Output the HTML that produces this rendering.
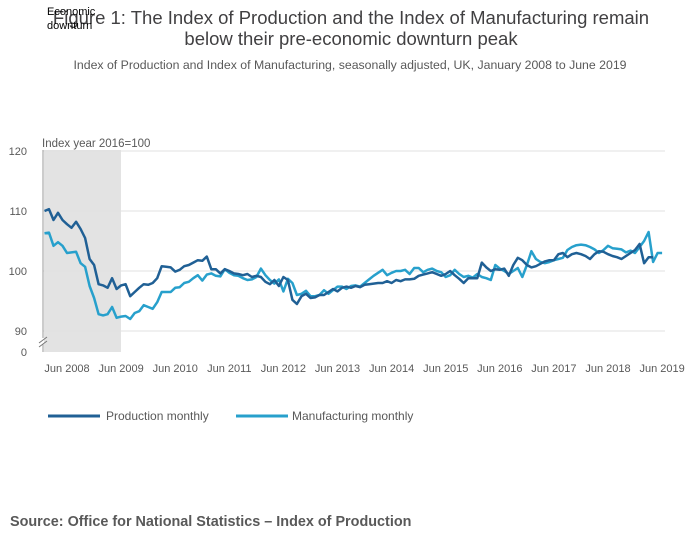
<!DOCTYPE html>
<html><head><meta charset="utf-8"><style>
body{margin:0;background:#fff;width:700px;height:549px;overflow:hidden;font-family:"Liberation Sans",sans-serif}
svg text{font-family:"Liberation Sans",sans-serif}
</style></head><body>
<svg id="chart" width="700" height="549">
<rect x="44" y="150" width="77" height="202" fill="#e3e3e3"/>
<text x="351" y="24" font-size="18.5" fill="#414042" text-anchor="middle">Figure 1: The Index of Production and the Index of Manufacturing remain</text>
<text x="351" y="45" font-size="18.5" fill="#414042" text-anchor="middle">below their pre-economic downturn peak</text>
<text x="47" y="15" font-size="11" fill="#000">Economic</text>
<text x="47" y="29" font-size="11" fill="#000">downturn</text>
<text x="350" y="69" font-size="12.3" fill="#595959" text-anchor="middle">Index of Production and Index of Manufacturing, seasonally adjusted, UK, January 2008 to June 2019</text>
<text x="42" y="147" font-size="11.5" fill="#595959">Index year 2016=100</text>
<g id="grid"></g><g id="xax"></g><g id="series"></g>
<line x1="43" y1="150" x2="43" y2="338" stroke="#999"/>
<line x1="43" y1="344" x2="43" y2="352" stroke="#999"/>
<path d="M39 343 L47 337 M39 347 L47 341" stroke="#777"/>
<text x="27" y="356" font-size="11" fill="#595959" text-anchor="end">0</text>
<line x1="48" y1="416" x2="100" y2="416" stroke="#206095" stroke-width="3"/>
<text x="106" y="420" font-size="12" fill="#595959">Production monthly</text>
<line x1="236" y1="416" x2="288" y2="416" stroke="#27a0cc" stroke-width="3"/>
<text x="292" y="420" font-size="12" fill="#595959">Manufacturing monthly</text>
<text x="10" y="526" font-size="14.4" font-weight="bold" fill="#595959">Source: Office for National Statistics – Index of Production</text>
</svg>
<script>
const yTicks=[90,100,110,120];
const xTickLabels=["Jun 2008","Jun 2009","Jun 2010","Jun 2011","Jun 2012","Jun 2013","Jun 2014","Jun 2015","Jun 2016","Jun 2017","Jun 2018","Jun 2019"];
const production=[110,110.3,108.5,109.7,108.5,107.8,107.2,108.2,107,105.5,102,101,
97.8,97.6,97.2,98.8,97,97.6,97.8,95.8,96.5,97.2,97.8,97.7,
98,98.8,100.8,100.7,100.6,99.9,100.2,100.8,101,101.4,101.8,101.7,
102.4,100.3,100.3,99.6,100.3,100,99.6,99.5,99.3,99.5,99,99.2,
99,98.2,97.8,98.5,97.5,99,98.5,95.2,94.5,95.8,96.2,95.5,
95.6,96,96,96.5,97,96.6,97.2,97.4,97.2,97.5,97.3,97.7,
97.8,97.9,98,98,98.3,98,98.5,98.3,98.6,98.6,98.7,99.2,
99.4,99.6,99.8,99.5,99.2,99.5,100,99.3,98.7,98,98.8,98.8,
98.8,101.4,100.6,100,100.3,100.2,100.4,99.2,101,102.2,101.8,101,
100.6,100.8,101.2,101.6,101.8,101.8,102.8,103,102.3,102.8,103,102.8,
102.5,102,102.8,103.3,103.2,102.8,102.5,102.3,102,102.5,103,103.5,
104.5,101.3,102.3,102.3];
const manufacturing=[106.3,106.4,104.2,104.8,104.2,103,103.1,103.2,101.3,100.7,97.5,95.5,
92.8,92.6,92.8,94,92.2,92.4,92.5,92,93,93.3,94.3,94,
93.7,94.8,96.5,96.5,96.5,97.2,97.3,98,98.2,98.8,99.3,98.4,
99.4,99.6,99.2,99.1,100.3,99.7,99.3,99.2,98.8,98.5,98.6,99,
100.4,99.3,98.5,97.9,98.6,96.6,98.7,98,96,96.2,96.7,95.8,
95.8,96,96.8,96.2,96.8,97.4,97.4,97,97.5,97.6,97.4,98,
98.6,99.2,99.7,100.2,99.3,99.7,100,100,100.2,99.5,100.5,100.5,
99.8,100.2,100.4,100,99.8,99,99.3,100.2,99.5,99,99.2,98.9,
99.5,99,98.8,98.5,101,100.4,100,99.5,100,100.5,99,101,
103.3,102,101.5,101.3,101.5,101.8,102,102.2,103.5,104,104.3,104.4,
104.3,104,103.6,103,103.5,104.2,103.8,103.7,103.6,103.1,103.4,103,
104,105,106.5,101.5,103,103];
const NS='http://www.w3.org/2000/svg';
function x(i){return 44.5+i*4.508;}
function y(v){return 271-(v-100)*6;}
const grid=document.getElementById('grid');
yTicks.forEach(t=>{
 const l=document.createElementNS(NS,'line');
 l.setAttribute('x1',43);l.setAttribute('x2',665);l.setAttribute('y1',y(t));l.setAttribute('y2',y(t));
 l.setAttribute('stroke','#e0e0e0');
 
 
 grid.appendChild(l);
 const tx=document.createElementNS(NS,'text');
 tx.setAttribute('x',27);tx.setAttribute('y',y(t)+4);tx.setAttribute('font-size','11');tx.setAttribute('fill','#595959');tx.setAttribute('text-anchor','end');
 tx.textContent=t;
 
 
 grid.appendChild(tx);
});
const xax=document.getElementById('xax');
xTickLabels.forEach((lab,k)=>{
 const tx=document.createElementNS(NS,'text');
 tx.setAttribute('x',x(5+12*k));tx.setAttribute('y',372);tx.setAttribute('font-size','11');tx.setAttribute('fill','#595959');tx.setAttribute('text-anchor','middle');
 tx.textContent=lab;
 
 
 xax.appendChild(tx);
});
const ser=document.getElementById('series');
[[manufacturing,'#27a0cc','manufacturing-line'],[production,'#206095','production-line']].forEach(([d,c,n])=>{
 const p=document.createElementNS(NS,'path');
 p.setAttribute('d',d.map((v,i)=>(i?'L':'M')+x(i).toFixed(1)+' '+y(v).toFixed(1)).join(' '));
 p.setAttribute('fill','none');p.setAttribute('stroke',c);p.setAttribute('stroke-width','2.5');p.setAttribute('stroke-linejoin','round');
 
 
 ser.appendChild(p);
});
</script>
</body></html>
